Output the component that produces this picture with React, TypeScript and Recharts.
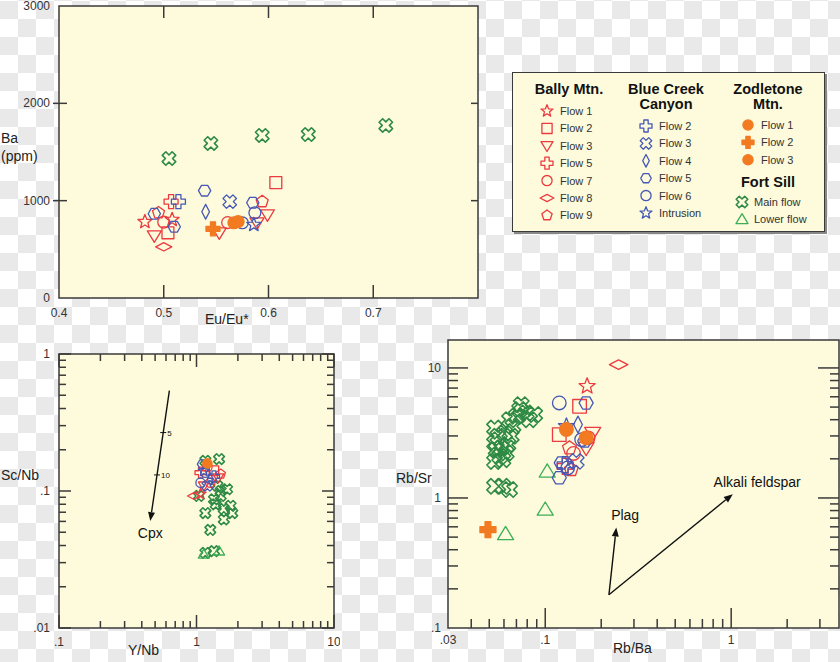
import React from "react";
import { ScatterChart, Scatter, XAxis, YAxis, ReferenceArea, ReferenceLine, ReferenceDot } from "recharts";

type Pt = { x: number; y: number; s: string };
type Note = { x: number; y: number; text: string };

// ---- Eu/Eu* vs Ba ----
const euFortSill: Pt[] = [
  { x: 0.505, y: 1433, s: "fm" }, { x: 0.545, y: 1588, s: "fm" }, { x: 0.594, y: 1670, s: "fm" },
  { x: 0.638, y: 1680, s: "fm" }, { x: 0.712, y: 1773, s: "fm" },
];
const euBally: Pt[] = [
  { x: 0.482, y: 783, s: "b1" }, { x: 0.508, y: 805, s: "b1" },
  { x: 0.504, y: 670, s: "b2" }, { x: 0.607, y: 1185, s: "b2" },
  { x: 0.491, y: 640, s: "b3" }, { x: 0.553, y: 670, s: "b3" }, { x: 0.599, y: 856, s: "b3" }, { x: 0.589, y: 773, s: "b3" },
  { x: 0.507, y: 990, s: "b5" },
  { x: 0.5, y: 780, s: "b7" }, { x: 0.561, y: 775, s: "b7" },
  { x: 0.5, y: 526, s: "b8" },
  { x: 0.495, y: 876, s: "b9" }, { x: 0.594, y: 990, s: "b9" },
];
const euBlueCreek: Pt[] = [
  { x: 0.514, y: 990, s: "c2" }, { x: 0.563, y: 990, s: "c3" }, { x: 0.54, y: 886, s: "c4" },
  { x: 0.491, y: 866, s: "c5" }, { x: 0.539, y: 1103, s: "c5" }, { x: 0.51, y: 732, s: "c5" }, { x: 0.585, y: 979, s: "c5" },
  { x: 0.587, y: 876, s: "c6" }, { x: 0.575, y: 773, s: "c6" },
  { x: 0.586, y: 753, s: "ci" },
];
const euZodletone: Pt[] = [
  { x: 0.567, y: 773, s: "z1" }, { x: 0.547, y: 711, s: "z2" }, { x: 0.571, y: 785, s: "z3" },
];

// ---- Y/Nb vs Sc/Nb ----
const ynbFortSill: Pt[] = [
  { x: 1.16, y: 0.166, s: "fm" }, { x: 1.46, y: 0.171, s: "fm" }, { x: 1.42, y: 0.109, s: "fm" },
  { x: 1.67, y: 0.103, s: "fm" }, { x: 1.77, y: 0.078, s: "fm" }, { x: 1.5, y: 0.092, s: "fm" },
  { x: 1.34, y: 0.087, s: "fm" }, { x: 1.16, y: 0.069, s: "fm" }, { x: 1.82, y: 0.069, s: "fm" },
  { x: 1.58, y: 0.062, s: "fm" }, { x: 1.26, y: 0.052, s: "fm" }, { x: 1.16, y: 0.0354, s: "fm" },
  { x: 1.34, y: 0.0364, s: "fm" }, { x: 1.5, y: 0.1, s: "fm" }, { x: 1.38, y: 0.08, s: "fm" },
  { x: 1.58, y: 0.074, s: "fm" }, { x: 1.04, y: 0.092, s: "fm" },
  { x: 1.46, y: 0.0364, s: "fl" }, { x: 1.13, y: 0.0345, s: "fl" },
];
const ynbBally: Pt[] = [
  { x: 0.956, y: 0.092, s: "b8" }, { x: 1.07, y: 0.095, s: "b1" }, { x: 1.13, y: 0.109, s: "b3" },
  { x: 1.5, y: 0.133, s: "b9" }, { x: 1.34, y: 0.141, s: "b2" }, { x: 1.07, y: 0.136, s: "b5" },
  { x: 1.26, y: 0.115, s: "b7" }, { x: 1.44, y: 0.125, s: "b3" }, { x: 1.2, y: 0.15, s: "b7" },
];
const ynbBlueCreek: Pt[] = [
  { x: 1.1, y: 0.157, s: "c5" }, { x: 1.16, y: 0.136, s: "c6" }, { x: 1.07, y: 0.115, s: "c6" },
  { x: 1.26, y: 0.122, s: "c4" }, { x: 1.2, y: 0.109, s: "c3" }, { x: 1.34, y: 0.128, s: "c2" },
  { x: 1.13, y: 0.14, s: "ci" },
];
const ynbZodletone: Pt[] = [{ x: 1.2, y: 0.159, s: "z1" }];

// ---- Rb/Ba vs Rb/Sr ----
const rbFortSill: Pt[] = [
  { x: 0.0534, y: 3.45, s: "fm" }, { x: 0.0557, y: 2.98, s: "fm" }, { x: 0.0534, y: 2.65, s: "fm" },
  { x: 0.0545, y: 2.35, s: "fm" }, { x: 0.0569, y: 2.09, s: "fm" }, { x: 0.0534, y: 1.91, s: "fm" },
  { x: 0.0592, y: 1.97, s: "fm" }, { x: 0.0617, y: 2.22, s: "fm" }, { x: 0.063, y: 2.57, s: "fm" },
  { x: 0.0656, y: 2.98, s: "fm" }, { x: 0.067, y: 3.56, s: "fm" }, { x: 0.0643, y: 4.0, s: "fm" },
  { x: 0.0698, y: 4.25, s: "fm" }, { x: 0.0728, y: 4.78, s: "fm" }, { x: 0.079, y: 4.51, s: "fm" },
  { x: 0.0824, y: 4.0, s: "fm" }, { x: 0.0877, y: 4.38, s: "fm" }, { x: 0.0743, y: 5.22, s: "fm" },
  { x: 0.0604, y: 3.16, s: "fm" }, { x: 0.058, y: 2.42, s: "fm" }, { x: 0.0534, y: 1.23, s: "fm" },
  { x: 0.0643, y: 1.16, s: "fm" }, { x: 0.0592, y: 1.23, s: "fm" },
  { x: 0.1025, y: 1.6, s: "fl" }, { x: 0.1, y: 0.814, s: "fl" }, { x: 0.0612, y: 0.528, s: "fl" },
];
const rbBally: Pt[] = [
  { x: 0.248, y: 10.6, s: "b8" }, { x: 0.168, y: 7.23, s: "b1" },
  { x: 0.153, y: 5.07, s: "b2" }, { x: 0.119, y: 3.07, s: "b2" },
  { x: 0.18, y: 3.16, s: "b3" }, { x: 0.166, y: 2.42, s: "b3" },
  { x: 0.138, y: 1.65, s: "b9" }, { x: 0.135, y: 2.42, s: "b9" },
  { x: 0.142, y: 2.2, s: "b7" }, { x: 0.17, y: 2.9, s: "b7" }, { x: 0.128, y: 1.75, s: "b5" },
];
const rbBlueCreek: Pt[] = [
  { x: 0.119, y: 5.38, s: "c6" }, { x: 0.166, y: 5.38, s: "c5" }, { x: 0.13, y: 3.56, s: "ci" },
  { x: 0.15, y: 3.67, s: "c4" }, { x: 0.157, y: 2.81, s: "c6" }, { x: 0.163, y: 2.74, s: "c5" },
  { x: 0.122, y: 1.86, s: "c5" }, { x: 0.119, y: 1.43, s: "c5" }, { x: 0.147, y: 1.91, s: "c3" },
  { x: 0.128, y: 1.8, s: "c2" }, { x: 0.132, y: 1.7, s: "c6" },
];
const rbZodletone: Pt[] = [
  { x: 0.13, y: 3.36, s: "z1" }, { x: 0.166, y: 2.9, s: "z3" }, { x: 0.0492, y: 0.571, s: "z2" },
];

// vectors and their labels
const cpxArrow = [{ x: 0.635, y: 0.54 }, { x: 0.461, y: 0.0603 }];
const cpxMarks: Note[] = [{ x: 0.573, y: 0.267, text: "5" }, { x: 0.516, y: 0.131, text: "10" }];
const cpxLabel: Note = { x: 0.461, y: 0.0497, text: "Cpx" };
const plagArrow = [{ x: 0.22, y: 0.18 }, { x: 0.241, y: 0.594 }];
const alkArrow = [{ x: 0.22, y: 0.18 }, { x: 1.02, y: 1.07 }];
const rbNotes: Note[] = [{ x: 0.269, y: 0.74, text: "Plag" }, { x: 1.38, y: 1.33, text: "Alkali feldspar" }];

// ticks
const euTicks = [0.4, 0.5, 0.6, 0.7];
const baTicks = [0, 1000, 2000, 3000];
const ynbTicks = [0.1, 0.2, 0.3, 0.4, 0.5, 0.6, 0.7, 0.8, 0.9, 1, 2, 3, 4, 5, 6, 7, 8, 9, 10];
const scnbTicks = [0.01, 0.02, 0.03, 0.04, 0.05, 0.06, 0.07, 0.08, 0.09, 0.1, 0.2, 0.3, 0.4, 0.5, 0.6, 0.7, 0.8, 0.9, 1];
const rbbaTicks = [0.03, 0.04, 0.05, 0.06, 0.07, 0.08, 0.09, 0.1, 0.2, 0.3, 0.4, 0.5, 0.6, 0.7, 0.8, 0.9, 1, 2, 3];
const rbsrTicks = [0.1, 0.2, 0.3, 0.4, 0.5, 0.6, 0.7, 0.8, 0.9, 1, 2, 3, 4, 5, 6, 7, 8, 9, 10];

const legendCols = [
  { title: ["Bally Mtn."], keys: ["b1", "b2", "b3", "b5", "b7", "b8", "b9"], labels: ["Flow 1", "Flow 2", "Flow 3", "Flow 5", "Flow 7", "Flow 8", "Flow 9"] },
  { title: ["Blue Creek", "Canyon"], keys: ["c2", "c3", "c4", "c5", "c6", "ci"], labels: ["Flow 2", "Flow 3", "Flow 4", "Flow 5", "Flow 6", "Intrusion"] },
  { title: ["Zodletone", "Mtn."], keys: ["z1", "z2", "z3"], labels: ["Flow 1", "Flow 2", "Flow 3"] },
  { title: ["Fort Sill"], keys: ["fm", "fl"], labels: ["Main flow", "Lower flow"] },
];

const RED = "#ec3a40";
const BLUE = "#4658b5";
const ORANGE = "#f27a20";
const GREEN = "#2e8a45";
const LGREEN = "#3cae56";
const BG = "#fdfbdc";
const INK = "#3a3a3a";
const TXT = "#333";
const FONT = '"Liberation Sans", Arial, Helvetica, sans-serif';

const STYLE: Record<string, { kind: string; color: string; filled?: boolean }> = {
  b1: { kind: "star", color: RED }, b2: { kind: "square", color: RED }, b3: { kind: "triDown", color: RED },
  b5: { kind: "plus", color: RED }, b7: { kind: "circle", color: RED }, b8: { kind: "diamondW", color: RED },
  b9: { kind: "pentagon", color: RED },
  c2: { kind: "plus", color: BLUE }, c3: { kind: "x", color: BLUE }, c4: { kind: "diamondT", color: BLUE },
  c5: { kind: "hexagon", color: BLUE }, c6: { kind: "circle", color: BLUE }, ci: { kind: "star", color: BLUE },
  z1: { kind: "circle", color: ORANGE, filled: true }, z2: { kind: "plus", color: ORANGE, filled: true },
  z3: { kind: "circle", color: ORANGE, filled: true },
  fm: { kind: "x", color: GREEN }, fl: { kind: "triUp", color: LGREEN },
};
const ORDER = ["fm", "fl", "b1", "b2", "b3", "b5", "b7", "b8", "b9", "c2", "c3", "c4", "c5", "c6", "ci", "z1", "z2", "z3"];

function ring(n: number, r: number, start: number) {
  const out: number[][] = [];
  for (let i = 0; i < n; i++) {
    const a = ((start + (360 / n) * i) * Math.PI) / 180;
    out.push([r * Math.cos(a), r * Math.sin(a)]);
  }
  return out;
}

function shapePoints(kind: string, r: number): number[][] {
  switch (kind) {
    case "star": {
      const pts: number[][] = [];
      for (let i = 0; i < 10; i++) {
        const a = ((-90 + i * 36) * Math.PI) / 180;
        const rr = i % 2 ? r * 0.45 : r * 1.05;
        pts.push([rr * Math.cos(a), rr * Math.sin(a)]);
      }
      return pts;
    }
    case "triDown": return [[-r, -r * 0.7], [r, -r * 0.7], [0, r * 0.95]];
    case "triUp": return [[-r, r * 0.7], [r, r * 0.7], [0, -r * 0.95]];
    case "diamondW": return [[-r * 1.15, 0], [0, -r * 0.6], [r * 1.15, 0], [0, r * 0.6]];
    case "diamondT": return [[-r * 0.55, 0], [0, -r * 1.05], [r * 0.55, 0], [0, r * 1.05]];
    case "pentagon": return ring(5, r * 0.9, -90);
    case "hexagon": return ring(6, r * 0.88, 0);
    case "plus":
    case "x": {
      const a = r * 0.36;
      const base = [[-a, -r], [a, -r], [a, -a], [r, -a], [r, a], [a, a], [a, r], [-a, r], [-a, a], [-r, a], [-r, -a], [-a, -a]];
      if (kind === "plus") return base;
      const c = Math.SQRT1_2;
      return base.map(([x, y]) => [(x - y) * c, (x + y) * c]);
    }
    default: return [];
  }
}

function Marker({ s, cx, cy, r }: { s: string; cx: number; cy: number; r: number }) {
  const st = STYLE[s];
  const common = {
    stroke: st.color,
    strokeWidth: s === "fm" ? 1.6 : 1.3,
    fill: st.filled ? st.color : "none",
    strokeLinejoin: "round" as const,
  };
  if (st.kind === "circle") return <circle cx={cx} cy={cy} r={r * 0.85} {...common} />;
  if (st.kind === "square") return <rect x={cx - r * 0.85} y={cy - r * 0.85} width={r * 1.7} height={r * 1.7} {...common} />;
  const pts = shapePoints(st.kind, r).map(([a, b]) => `${cx + a},${cy + b}`).join(" ");
  return <polygon points={pts} {...common} />;
}

const isDecade = (v: number) => Math.abs(Math.log10(v) - Math.round(Math.log10(v))) < 1e-6;
const shortNum = (v: number) => (v < 1 ? String(v).replace(/^0/, "") : String(v));

// custom ticks: the axes are 1px wide, so the tick's x/y sit on the plot edge
function xTick(o: { len: (v: number) => number; top: number; topLen: (v: number) => number; fmt: (v: number) => string; dy: number }) {
  return (p: any) => {
    const v = p.payload.value;
    const { x, y } = p;
    const L = o.len(v);
    const T = o.topLen(v);
    return (
      <g>
        {L > 0 && <line x1={x} x2={x} y1={y} y2={y - L} stroke={INK} strokeWidth={1.5} />}
        {T > 0 && <line x1={x} x2={x} y1={y - o.top} y2={y - o.top + T} stroke={INK} strokeWidth={1.5} />}
        <text x={x} y={y + o.dy} textAnchor="middle" fontSize={12} fill={TXT} fontFamily={FONT}>{o.fmt(v)}</text>
      </g>
    );
  };
}

function yTick(o: { len: (v: number) => number; out: (v: number) => number; right: number; rightLen: (v: number) => number; fmt: (v: number) => string; dx: number }) {
  return (p: any) => {
    const v = p.payload.value;
    const { x, y } = p;
    const L = o.len(v);
    const R = o.rightLen(v);
    return (
      <g>
        {L > 0 && <line x1={x - o.out(v)} x2={x + L} y1={y} y2={y} stroke={INK} strokeWidth={1.5} />}
        {R > 0 && <line x1={x + o.right - R} x2={x + o.right} y1={y} y2={y} stroke={INK} strokeWidth={1.5} />}
        <text x={x - o.dx} y={y + 4} textAnchor="end" fontSize={12} fill={TXT} fontFamily={FONT}>{o.fmt(v)}</text>
      </g>
    );
  };
}

function Arrow(props: any) {
  const { x1, y1, x2, y2 } = props;
  const ang = Math.atan2(y2 - y1, x2 - x1);
  const L = 9, W = 3.5;
  const bx = x2 - L * Math.cos(ang), by = y2 - L * Math.sin(ang);
  const px = -Math.sin(ang) * W, py = Math.cos(ang) * W;
  return (
    <g>
      <line x1={x1} y1={y1} x2={bx} y2={by} stroke="#111" strokeWidth={1.4} />
      <polygon points={`${x2},${y2} ${bx + px},${by + py} ${bx - px},${by - py}`} fill="#111" />
    </g>
  );
}

function noteShape(n: Note, size: number) {
  return (p: any) => (
    <text x={p.cx} y={p.cy} textAnchor="middle" dominantBaseline="central" fontSize={size} fill="#111" fontFamily={FONT}>
      {n.text}
    </text>
  );
}

function seriesOf(groups: Pt[][], r: number) {
  const all = groups.flat();
  return ORDER.map((k) => {
    const d = all.filter((p) => p.s === k);
    if (!d.length) return null;
    return (
      <Scatter
        key={k}
        data={d}
        isAnimationActive={false}
        shape={(p: any) => <Marker s={k} cx={p.cx} cy={p.cy} r={r} />}
      />
    );
  });
}

function Checker() {
  return (
    <svg width={840} height={662} style={{ position: "absolute", left: 0, top: 0 }}>
      <defs>
        <pattern id="chk" width={36} height={36} patternUnits="userSpaceOnUse" x={0} y={1}>
          <rect width={36} height={36} fill="#ffffff" />
          <rect x={0} y={0} width={18} height={18} fill="#e9e9e9" />
          <rect x={18} y={18} width={18} height={18} fill="#e9e9e9" />
        </pattern>
      </defs>
      <rect width={840} height={662} fill="url(#chk)" />
    </svg>
  );
}

export default function App() {
  const wrap: React.CSSProperties = {
    position: "absolute", left: 0, top: 0, width: 840, height: 662, overflow: "hidden",
    background: "#fff", fontFamily: FONT, color: TXT,
  };
  const title: React.CSSProperties = { position: "absolute", fontSize: 14, color: "#222", whiteSpace: "nowrap", lineHeight: "18px" };
  const axisCommon = { axisLine: false, tickLine: false, tickSize: 0, tickMargin: 0, allowDataOverflow: true, interval: 0 as const };

  return (
    <div style={wrap}>
      <Checker />

      {/* Eu/Eu* vs Ba */}
      <div style={{ position: "absolute", left: 0, top: 0 }}>
        <ScatterChart width={480} height={330} margin={{ top: 6, right: 2, bottom: 31, left: 58 }}>
          <ReferenceArea x1={0.4} x2={0.8} y1={0} y2={3000} fill={BG} fillOpacity={1} stroke={INK} strokeWidth={1.5} />
          <XAxis type="number" dataKey="x" domain={[0.4, 0.8]} ticks={euTicks} height={1} {...axisCommon}
            tick={xTick({ len: (v) => (v > 0.45 ? 13 : 0), top: 292, topLen: (v) => (v > 0.45 ? 12 : 0), fmt: (v) => v.toFixed(1), dy: 19 })} />
          <YAxis type="number" dataKey="y" domain={[0, 3000]} ticks={baTicks} width={1} {...axisCommon}
            tick={yTick({ len: (v) => (v > 0 && v < 3000 ? 8 : 0), out: () => 6, right: 419, rightLen: (v) => (v > 0 && v < 3000 ? 7 : 0), fmt: (v) => String(v), dx: 9 })} />
          {seriesOf([euFortSill, euBally, euBlueCreek, euZodletone], 7)}
        </ScatterChart>
      </div>

      {/* Y/Nb vs Sc/Nb */}
      <div style={{ position: "absolute", left: 0, top: 340 }}>
        <ScatterChart width={340} height={322} margin={{ top: 14, right: 6, bottom: 33, left: 58 }}>
          <ReferenceArea x1={0.1} x2={10} y1={0.01} y2={1} fill={BG} fillOpacity={1} stroke={INK} strokeWidth={1.5} />
          <XAxis type="number" dataKey="x" scale="log" domain={[0.1, 10]} ticks={ynbTicks} height={1} {...axisCommon}
            tick={xTick({ len: (v) => (isDecade(v) ? 13 : 7), top: 274, topLen: (v) => (isDecade(v) ? 13 : 7), fmt: (v) => (isDecade(v) ? shortNum(v) : ""), dy: 18 })} />
          <YAxis type="number" dataKey="y" scale="log" domain={[0.01, 1]} ticks={scnbTicks} width={1} {...axisCommon}
            tick={yTick({ len: (v) => (isDecade(v) ? 12 : 7), out: () => 0, right: 275, rightLen: (v) => (isDecade(v) ? 12 : 7), fmt: (v) => (isDecade(v) ? shortNum(v) : ""), dx: 9 })} />
          {seriesOf([ynbFortSill, ynbBally, ynbBlueCreek, ynbZodletone], 5.5)}
          <ReferenceLine segment={cpxArrow} shape={Arrow} />
          {cpxMarks.map((m) => (
            <ReferenceDot key={m.text} x={m.x} y={m.y} r={0}
              shape={(p: any) => (
                <g>
                  <line x1={p.cx - 3} x2={p.cx + 3} y1={p.cy} y2={p.cy} stroke="#111" strokeWidth={1} />
                  <text x={p.cx + 4} y={p.cy + 3} fontSize={8} fill="#111" fontFamily={FONT}>{m.text}</text>
                </g>
              )} />
          ))}
          <ReferenceDot x={cpxLabel.x} y={cpxLabel.y} r={0} shape={noteShape(cpxLabel, 14)} />
        </ScatterChart>
      </div>

      {/* Rb/Ba vs Rb/Sr */}
      <div style={{ position: "absolute", left: 400, top: 330 }}>
        <ScatterChart width={440} height={332} margin={{ top: 10, right: 1, bottom: 33, left: 47 }}>
          <ReferenceArea x1={0.03} x2={3.8} y1={0.1} y2={16.4} fill={BG} fillOpacity={1} stroke={INK} strokeWidth={1.5} />
          <XAxis type="number" dataKey="x" scale="log" domain={[0.03, 3.8]} ticks={rbbaTicks} height={1} {...axisCommon}
            tick={xTick({ len: (v) => (v === 0.03 ? 0 : isDecade(v) ? 20 : 9), top: 288, topLen: () => 0, fmt: (v) => ([0.03, 0.1, 1].includes(v) ? shortNum(v) : ""), dy: 16 })} />
          <YAxis type="number" dataKey="y" scale="log" domain={[0.1, 16.4]} ticks={rbsrTicks} width={1} {...axisCommon}
            tick={yTick({ len: (v) => (v === 0.1 ? 0 : isDecade(v) ? 20 : 10), out: () => 0, right: 391, rightLen: (v) => (v === 0.1 ? 0 : isDecade(v) ? 21 : 9), fmt: (v) => (isDecade(v) ? shortNum(v) : ""), dx: 7 })} />
          {seriesOf([rbFortSill, rbBally, rbBlueCreek, rbZodletone], 8)}
          <ReferenceLine segment={plagArrow} shape={Arrow} />
          <ReferenceLine segment={alkArrow} shape={Arrow} />
          {rbNotes.map((n) => (
            <ReferenceDot key={n.text} x={n.x} y={n.y} r={0} shape={noteShape(n, 14)} />
          ))}
        </ScatterChart>
      </div>

      {/* axis titles */}
      <div style={{ ...title, left: 1, top: 129 }}>Ba<br />(ppm)</div>
      <div style={{ ...title, left: 205, top: 310 }}>Eu/Eu*</div>
      <div style={{ ...title, left: 1, top: 466 }}>Sc/Nb</div>
      <div style={{ ...title, left: 128, top: 641 }}>Y/Nb</div>
      <div style={{ ...title, left: 396, top: 469 }}>Rb/Sr</div>
      <div style={{ ...title, left: 613, top: 639 }}>Rb/Ba</div>

      {/* legend */}
      <div style={{
        position: "absolute", left: 512, top: 72, width: 311, height: 158,
        background: BG, border: `1.5px solid ${INK}`, boxShadow: "2px 2px 0 #888",
      }}>
        <svg width={311} height={158} style={{ position: "absolute", left: 0, top: 0 }}>
          {legendCols.map((col, ci) => {
            const cxs = [56, 153, 255, 255];
            const mx = [34, 133, 235, 229];
            const lx = [47, 146, 248, 241];
            const ty = [16, 16, 16, 109];
            const ry = [38, 53, 52, 129];
            return (
              <g key={ci}>
                {col.title.map((t, i) => (
                  <text key={t} x={cxs[ci]} y={ty[ci] + 5 + i * 15} textAnchor="middle" fontSize={14.5} fontWeight="bold" fill="#111" fontFamily={FONT}>{t}</text>
                ))}
                {col.keys.map((k, i) => (
                  <g key={k}>
                    <Marker s={k} cx={mx[ci]} cy={ry[ci] + i * 17.4} r={6} />
                    <text x={lx[ci]} y={ry[ci] + i * 17.4 + 4} fontSize={11} fill={TXT} fontFamily={FONT}>{col.labels[i]}</text>
                  </g>
                ))}
              </g>
            );
          })}
        </svg>
      </div>
    </div>
  );
}
